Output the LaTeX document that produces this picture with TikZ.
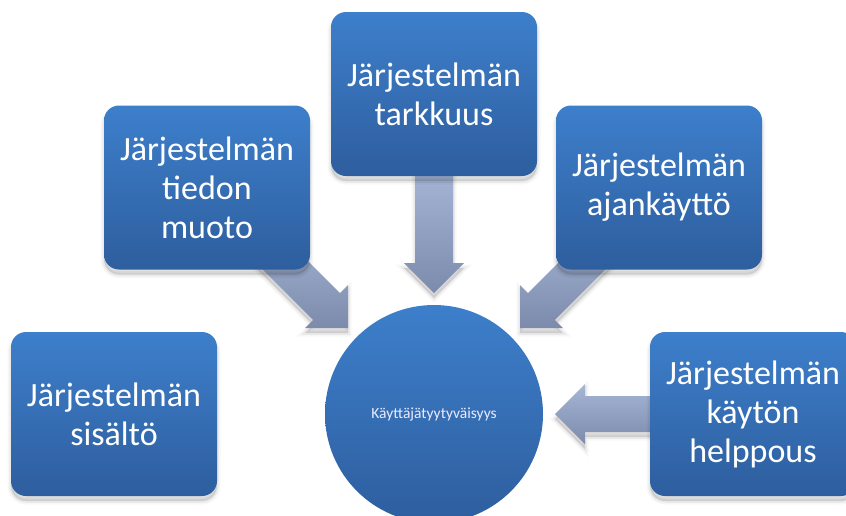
\documentclass[tikz,border=0pt]{standalone}
\usepackage{fontspec}
\setmainfont{Carlito}
\usetikzlibrary{calc}
\pgfdeclarelayer{paper}
\pgfdeclarelayer{background}
\pgfsetlayers{paper,background,main}
\definecolor{boxtop}{RGB}{61,127,203}
\definecolor{boxbot}{RGB}{46,94,158}
\definecolor{arrtop}{RGB}{166,182,214}
\definecolor{arrbot}{RGB}{124,139,172}
\tikzset{
  softshadow/.style={
    preaction={transform canvas={yshift=-5pt}, draw=black, draw opacity=0.03, line width=7pt},
    preaction={transform canvas={yshift=-5pt}, draw=black, draw opacity=0.05, line width=3.5pt},
    preaction={transform canvas={yshift=-5pt}, fill=black, fill opacity=0.12}},
  boxnode/.style={rectangle, rounded corners=15pt, minimum width=206pt, minimum height=164pt,
    softshadow, top color=boxtop, bottom color=boxbot, draw=none, text=white, align=center,
    font=\fontsize{34}{39}\selectfont, inner sep=0pt},
  hubnode/.style={circle, minimum size=218pt, inner sep=0pt, top color=boxtop, bottom color=boxbot,
    draw=none, text=white!92!blue, font=\fontsize{15.5}{18}\selectfont},
  blockarrow/.style={softshadow, top color=arrtop, bottom color=arrbot, draw=none}
}
\begin{document}
\begin{tikzpicture}[x=1pt,y=-1pt]
\useasboundingbox (0,0) rectangle (846,515);
\begin{pgfonlayer}{paper}
\fill[white] (0,0) rectangle (846,515);
\end{pgfonlayer}
\node[hubnode] (circ) at (434,414) {Käyttäjätyytyväisyys};
\node[boxnode] (tark) at (434,94) {Järjestelmän\\tarkkuus};
\node[boxnode] (tied) at (207,187.5) {Järjestelmän\\tiedon\\muoto};
\node[boxnode] (ajan) at (659,187.5) {Järjestelmän\\ajankäyttö};
\node[boxnode] (sisa) at (114,414) {Järjestelmän\\sisältö};
\node[boxnode] (help) at (753,414) {Järjestelmän\\käytön\\helppous};
\coordinate (tT) at ($(circ.center)+(0,-121)$);
\coordinate (tL) at ($(circ.center)+(-86,-86)$);
\coordinate (tR) at ($(circ.center)+(86,-86)$);
\coordinate (tH) at ($(circ.center)+(121,0)$);
\begin{pgfonlayer}{background}
\begin{scope}[shift={(tT)}]
\path[blockarrow] (0,0) -- (-30,-30) -- (-19,-30) -- (-19,-125) -- (19,-125) -- (19,-30) -- (30,-30) -- cycle;
\end{scope}
\begin{scope}[shift={(tL)}]
\path[blockarrow] (0,0) -- (-43,0) -- (-34.9,-8.1) -- (-105.6,-78.8) -- (-78.8,-105.6) -- (-8.1,-34.9) -- (0,-43) -- cycle;
\end{scope}
\begin{scope}[shift={(tR)}]
\path[blockarrow] (0,0) -- (43,0) -- (34.9,-8.1) -- (105.6,-78.8) -- (78.8,-105.6) -- (8.1,-34.9) -- (0,-43) -- cycle;
\end{scope}
\begin{scope}[shift={(tH)}]
\path[blockarrow] (0,0) -- (30,-30) -- (30,-18) -- (110,-18) -- (110,18) -- (30,18) -- (30,30) -- cycle;
\end{scope}
\end{pgfonlayer}
\end{tikzpicture}
\end{document}
